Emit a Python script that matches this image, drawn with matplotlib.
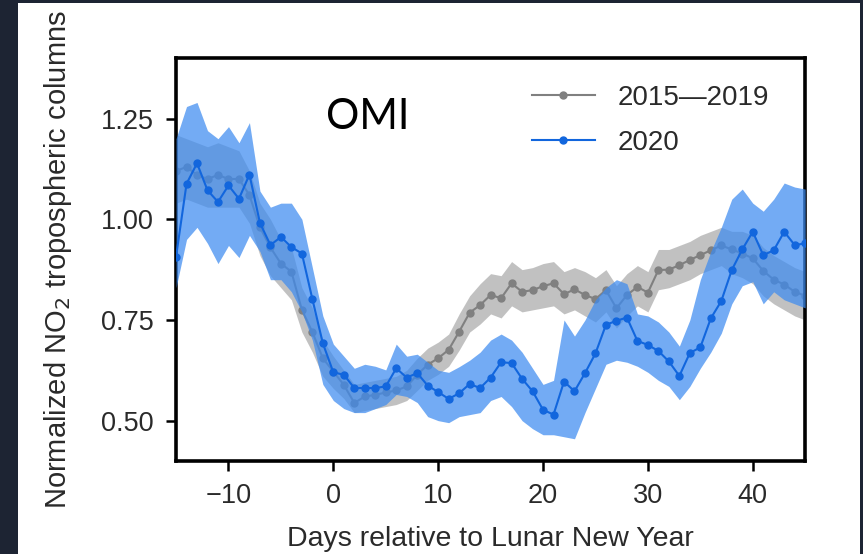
import numpy as np
import matplotlib
matplotlib.use("Agg")
import matplotlib.pyplot as plt
from matplotlib.patches import Rectangle

# --- values (days -15 .. 45) ---
days = list(range(-15, 46))

no2_2020 = [0.907, 1.088, 1.139, 1.072, 1.043, 1.084, 1.051, 1.111, 0.991, 0.936,
            0.956, 0.931, 0.915, 0.802, 0.692, 0.620, 0.614, 0.581, 0.581, 0.581,
            0.585, 0.630, 0.607, 0.618, 0.587, 0.571, 0.554, 0.568, 0.591, 0.581,
            0.607, 0.645, 0.643, 0.604, 0.573, 0.527, 0.515, 0.597, 0.573, 0.618,
            0.667, 0.738, 0.748, 0.756, 0.698, 0.688, 0.673, 0.647, 0.611, 0.668,
            0.682, 0.754, 0.797, 0.874, 0.925, 0.969, 0.911, 0.923, 0.969, 0.936,
            0.940]
hi_2020 = [1.20, 1.28, 1.29, 1.22, 1.20, 1.23, 1.19, 1.24, 1.07, 1.03,
           1.04, 1.04, 1.00, 0.88, 0.76, 0.69, 0.66, 0.63, 0.64, 0.635,
           0.626, 0.69, 0.66, 0.665, 0.645, 0.625, 0.62, 0.634, 0.65, 0.67,
           0.70, 0.715, 0.70, 0.67, 0.63, 0.59, 0.60, 0.75, 0.71, 0.75,
           0.80, 0.83, 0.85, 0.84, 0.765, 0.76, 0.745, 0.72, 0.685, 0.75,
           0.85, 0.92, 0.98, 1.05, 1.075, 1.04, 1.02, 1.05, 1.09, 1.08,
           1.075]
lo_2020 = [0.83, 0.95, 0.98, 0.94, 0.89, 0.935, 0.905, 0.96, 0.92, 0.85,
           0.85, 0.82, 0.77, 0.70, 0.59, 0.55, 0.53, 0.52, 0.52, 0.53,
           0.54, 0.565, 0.56, 0.545, 0.51, 0.50, 0.495, 0.51, 0.515, 0.52,
           0.55, 0.56, 0.535, 0.50, 0.48, 0.465, 0.465, 0.46, 0.455, 0.52,
           0.58, 0.64, 0.65, 0.645, 0.635, 0.62, 0.60, 0.585, 0.552, 0.585,
           0.63, 0.67, 0.717, 0.79, 0.835, 0.845, 0.79, 0.82, 0.80, 0.79,
           0.78]

no2_clim = [1.12, 1.13, 1.11, 1.10, 1.11, 1.10, 1.10, 1.06, 0.98, 0.93,
            0.89, 0.87, 0.775, 0.72, 0.655, 0.622, 0.589, 0.544, 0.56, 0.564,
            0.57, 0.575, 0.585, 0.614, 0.639, 0.655, 0.676, 0.721, 0.768, 0.787,
            0.812, 0.804, 0.841, 0.82, 0.824, 0.834, 0.841, 0.814, 0.826, 0.812,
            0.802, 0.824, 0.779, 0.812, 0.832, 0.818, 0.874, 0.875, 0.886, 0.899,
            0.911, 0.923, 0.935, 0.925, 0.915, 0.903, 0.872, 0.85, 0.838, 0.82,
            0.81]
hi_clim = [1.21, 1.20, 1.19, 1.18, 1.19, 1.18, 1.17, 1.12, 1.04, 1.00,
           0.95, 0.93, 0.83, 0.78, 0.70, 0.66, 0.625, 0.59, 0.595, 0.60,
           0.605, 0.61, 0.625, 0.655, 0.68, 0.695, 0.715, 0.765, 0.81, 0.84,
           0.865, 0.86, 0.895, 0.875, 0.88, 0.89, 0.895, 0.87, 0.88, 0.87,
           0.855, 0.875, 0.835, 0.865, 0.885, 0.87, 0.925, 0.925, 0.935, 0.945,
           0.96, 0.97, 0.98, 0.97, 0.97, 0.96, 0.93, 0.91, 0.895, 0.88,
           0.87]
lo_clim = [1.04, 1.05, 1.04, 1.03, 1.03, 1.03, 1.03, 0.99, 0.91, 0.86,
           0.83, 0.80, 0.72, 0.67, 0.61, 0.58, 0.555, 0.52, 0.525, 0.53,
           0.535, 0.54, 0.55, 0.575, 0.60, 0.615, 0.635, 0.675, 0.72, 0.74,
           0.765, 0.755, 0.785, 0.77, 0.775, 0.78, 0.785, 0.765, 0.775, 0.76,
           0.745, 0.77, 0.73, 0.76, 0.785, 0.77, 0.825, 0.83, 0.84, 0.85,
           0.865, 0.875, 0.885, 0.865, 0.855, 0.84, 0.81, 0.79, 0.775, 0.76,
           0.75]

x_ticks = [-10, 0, 10, 20, 30, 40]
y_ticks = [0.50, 0.75, 1.00, 1.25]

plt.rcParams['font.family'] = ['Liberation Sans', 'DejaVu Sans']

fig = plt.figure(figsize=(8.63, 5.54), dpi=100, facecolor='#1d2433')
# white slide panel behind the chart
panel = Rectangle((18 / 863, 0), 842 / 863, 551 / 554, transform=fig.transFigure,
                  facecolor='white', edgecolor='none', zorder=-10)
fig.add_artist(panel)

ax = fig.add_axes([0.204, 0.168, 0.729, 0.727])
ax.set_facecolor('white')

gray = '#808080'
blue = '#1266dd'

ax.fill_between(days, lo_clim, hi_clim, color='#999999', alpha=0.6, lw=0, zorder=1)
ax.plot(days, no2_clim, '-o', color=gray, ms=5, lw=1.5, label='2015\u20142019', zorder=2)
ax.fill_between(days, lo_2020, hi_2020, color='#3d8bf0', alpha=0.72, lw=0, zorder=3)
ax.plot(days, no2_2020, '-o', color=blue, ms=5, lw=1.5, label='2020', zorder=4)

ax.set_xlim(-15, 45)
ax.set_ylim(0.40, 1.40)
ax.set_xticks(x_ticks)
ax.set_yticks(y_ticks)
ax.set_yticklabels([f'{v:.2f}' for v in y_ticks])

for s in ax.spines.values():
    s.set_linewidth(2.6)
    s.set_color('black')
ax.tick_params(direction='out', length=7, width=1.8, labelsize=19.5,
               labelcolor='#2a2a2a', pad=9)

ax.set_xlabel('Days relative to Lunar New Year', fontsize=20.5, color='#2a2a2a', labelpad=12)
ax.set_ylabel('Normalized NO$_2$ tropospheric columns', fontsize=21, color='#2a2a2a')
ax.yaxis.set_label_coords(-0.162, 0.5)

ax.text(0.304, 0.854, 'OMI', transform=ax.transAxes, fontsize=30,
        family='Lato', ha='center', va='center', color='black')

ax.legend(loc='upper left', bbox_to_anchor=(0.548, 0.962), borderaxespad=0,
          frameon=False, fontsize=20, handlelength=2.27, handletextpad=0.8,
          labelspacing=0.7, labelcolor='#2a2a2a')

fig.savefig('out.png', dpi=100, facecolor=fig.get_facecolor())
